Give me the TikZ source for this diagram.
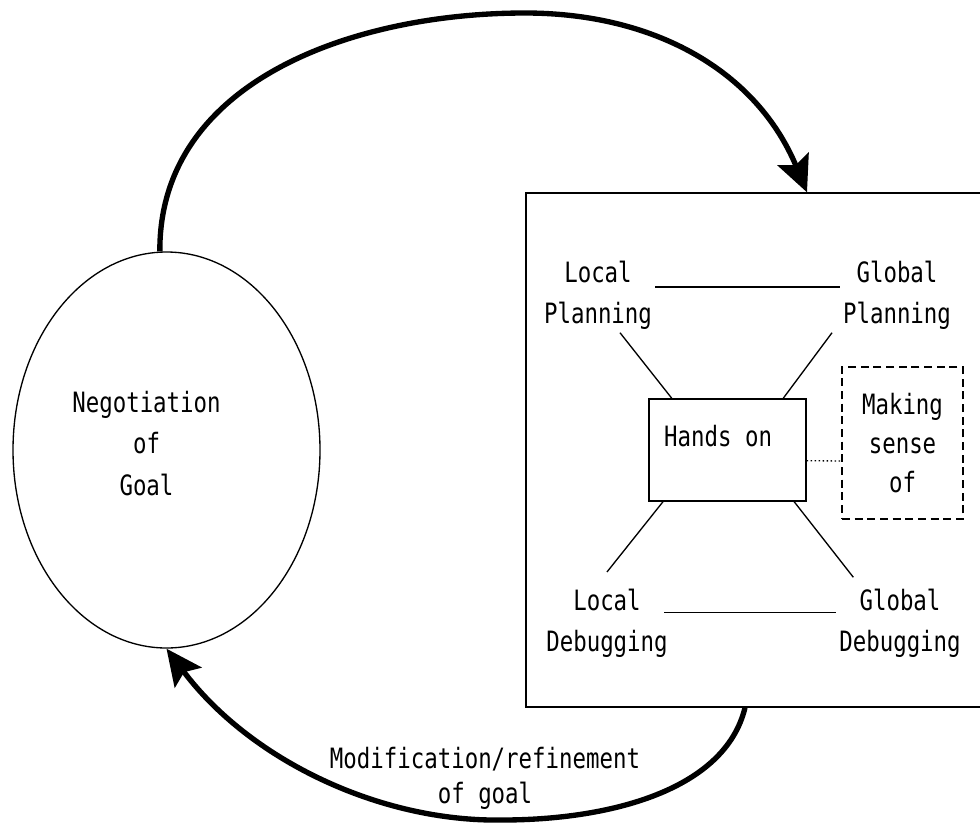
\documentclass[tikz,border=0pt]{standalone}
\usepackage{fontspec}
\setmainfont{DejaVu Sans Mono}[FakeStretch=0.8]
\usepackage{tikz}
\usetikzlibrary{shapes.geometric,positioning,arrows.meta}

\begin{document}
\begin{tikzpicture}[x=0.75pt,y=-0.75pt,line width=1pt,
		font=\fontsize{21}{31}\selectfont,
		lbl/.style={align=center,inner sep=2pt},
		flow/.style={line width=4pt,-{Stealth[length=27pt,width=25pt,inset=5pt]}}]
		\useasboundingbox (0,0) rectangle (980,825);
		\clip (0,0) rectangle (980,825);
		% goal ellipse
		\node (goal) [ellipse,draw,inner sep=0pt,minimum width=230.25pt,minimum height=297pt] at (166.5,450) {};
		\node (goaltext) [lbl,xshift=-15pt,yshift=5pt] at (goal) {Negotiation\\of\\Goal};
		% activity box
		\node (activity) [rectangle,draw,inner sep=0pt,minimum width=355.5pt,minimum height=385.5pt] at (763,450) {};
		\node (lp) [lbl] at (598,295) {Local\\Planning};
		\node (gp) [lbl] at (897,295) {Global\\Planning};
		\node (ld) [lbl] at (607,623) {Local\\Debugging};
		\node (gd) [lbl] at (900,623) {Global\\Debugging};
		\node (hands) [rectangle,draw,inner sep=0pt,minimum width=117.75pt,minimum height=76.5pt] at (727.5,450) {};
		\node (handstext) [lbl,below=18pt of hands.north,xshift=-7pt] {Hands on};
		\node (sense) [lbl,draw,dashed,dash pattern=on 6pt off 3.5pt,minimum width=90.75pt,minimum height=114pt,
			font=\fontsize{21}{29}\selectfont] at (902.5,443) {Making\\sense\\of};
		\draw ([yshift=6pt]lp.east) -- ([yshift=6pt]gp.west);
		\draw ([xshift=-5pt,yshift=8pt]ld.east) -- ([yshift=8pt]gd.west);
		\draw ([xshift=16.5pt]lp.south) -- ([xshift=17.6pt]hands.north west);
		\draw ([xshift=-48.75pt]gp.south) -- ([xshift=-17.6pt]hands.north east);
		\draw ([xshift=11pt]hands.south west) -- ([yshift=10pt]ld.north);
		\draw ([xshift=-9.4pt]hands.south east) -- ([xshift=-35pt,yshift=6pt]gd.north);
		\draw [dotted] ([yshift=-8pt]hands.east) -- ([yshift=-13.5pt]sense.west);
		% the two loops
		\draw [flow] ([xshift=-5pt]goal.north) .. controls (159,81) and (354,13) .. (525,13)
			.. controls (656,13) and (757,72) .. ([xshift=33pt]activity.north);
		\draw [flow] ([xshift=-13.5pt]activity.south) .. controls (725,790) and (610,820) .. (502,820)
			.. controls (380,822) and (250,760) .. (goal.south);
		\node (refine) [lbl,font=\fontsize{21}{26}\selectfont] at (485,778.5) {Modification/refinement\\of goal};
\end{tikzpicture}
\end{document}
